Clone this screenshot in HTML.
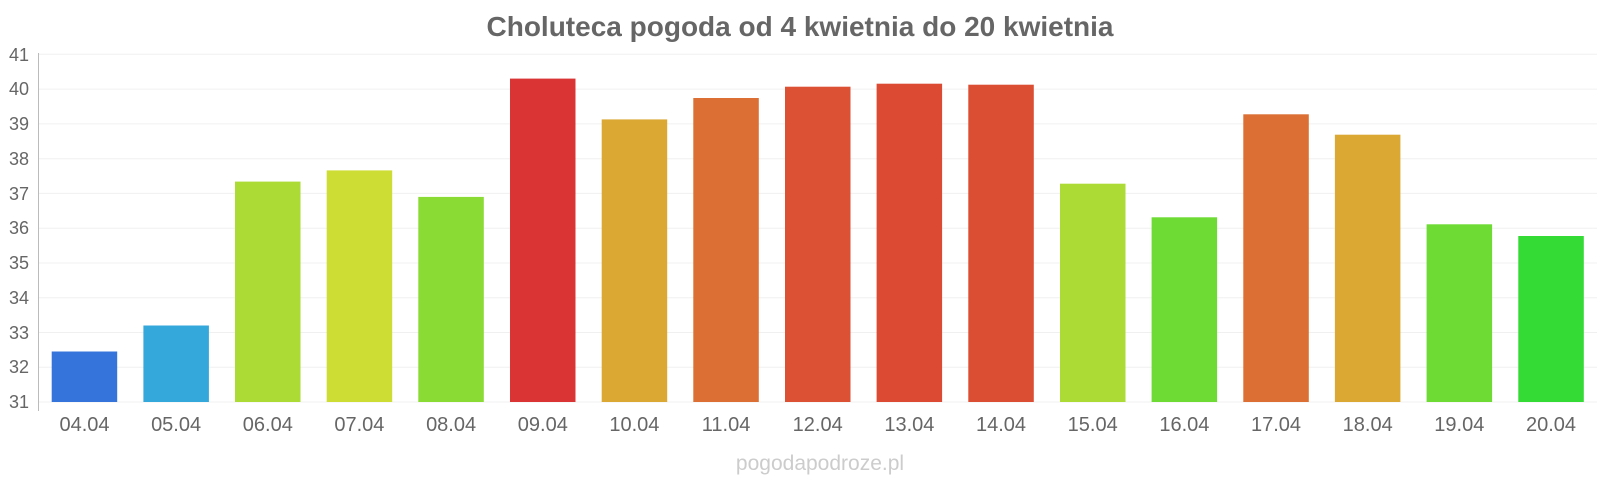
<!DOCTYPE html>
<html><head><meta charset="utf-8"><style>
html,body{margin:0;padding:0;background:#fff;}
svg{display:block;font-family:"Liberation Sans",Arial,sans-serif;}
</style></head><body>
<svg width="1600" height="480" viewBox="0 0 1600 480" xmlns="http://www.w3.org/2000/svg">
<text x="800" y="36" text-anchor="middle" font-size="28" font-weight="bold" fill="#666">Choluteca pogoda od 4 kwietnia do 20 kwietnia</text>
<g stroke="#f0f0f0" stroke-width="1">
<line x1="39" x2="1597" y1="54.3" y2="54.3"/><line x1="39" x2="1597" y1="89.1" y2="89.1"/><line x1="39" x2="1597" y1="123.9" y2="123.9"/><line x1="39" x2="1597" y1="158.7" y2="158.7"/><line x1="39" x2="1597" y1="193.4" y2="193.4"/><line x1="39" x2="1597" y1="228.2" y2="228.2"/><line x1="39" x2="1597" y1="263" y2="263"/><line x1="39" x2="1597" y1="297.7" y2="297.7"/><line x1="39" x2="1597" y1="332.5" y2="332.5"/><line x1="39" x2="1597" y1="367.2" y2="367.2"/><line x1="39" x2="1597" y1="402" y2="402"/>
</g>
<line x1="38.5" x2="38.5" y1="53" y2="411" stroke="#bbb"/>
<g font-size="18" fill="#666" text-anchor="end">
<text x="29" y="61">41</text><text x="29" y="95">40</text><text x="29" y="130">39</text><text x="29" y="165">38</text><text x="29" y="200">37</text><text x="29" y="234">36</text><text x="29" y="269">35</text><text x="29" y="304">34</text><text x="29" y="339">33</text><text x="29" y="373">32</text><text x="29" y="408">31</text>
</g>
<g>
<rect x="51.7" y="351.5" width="65.5" height="50.5" fill="#3474db"/>
<rect x="143.4" y="325.5" width="65.5" height="76.5" fill="#34a7db"/>
<rect x="235" y="181.6" width="65.5" height="220.4" fill="#abdb34"/>
<rect x="326.7" y="170.4" width="65.5" height="231.6" fill="#cddd34"/>
<rect x="418.3" y="196.9" width="65.5" height="205.1" fill="#8adb34"/>
<rect x="510" y="78.6" width="65.5" height="323.4" fill="#db3434"/>
<rect x="601.7" y="119.4" width="65.5" height="282.6" fill="#dba834"/>
<rect x="693.3" y="98" width="65.5" height="304" fill="#dc6f34"/>
<rect x="785" y="86.7" width="65.5" height="315.3" fill="#dc5034"/>
<rect x="876.6" y="83.7" width="65.5" height="318.3" fill="#dc4a34"/>
<rect x="968.3" y="84.7" width="65.5" height="317.3" fill="#dc4e34"/>
<rect x="1060" y="183.7" width="65.5" height="218.3" fill="#abdb34"/>
<rect x="1151.6" y="217.3" width="65.5" height="184.7" fill="#6ddb34"/>
<rect x="1243.3" y="114.3" width="65.5" height="287.7" fill="#dc6f34"/>
<rect x="1334.9" y="134.7" width="65.5" height="267.3" fill="#dba834"/>
<rect x="1426.6" y="224.3" width="65.5" height="177.7" fill="#6ddb34"/>
<rect x="1518.3" y="236" width="65.5" height="166" fill="#34db34"/>
</g>
<g font-size="20" fill="#666" text-anchor="middle">
<text x="84.5" y="431">04.04</text><text x="176.1" y="431">05.04</text><text x="267.8" y="431">06.04</text><text x="359.4" y="431">07.04</text><text x="451.1" y="431">08.04</text><text x="542.8" y="431">09.04</text><text x="634.4" y="431">10.04</text><text x="726.1" y="431">11.04</text><text x="817.7" y="431">12.04</text><text x="909.4" y="431">13.04</text><text x="1001" y="431">14.04</text><text x="1092.7" y="431">15.04</text><text x="1184.4" y="431">16.04</text><text x="1276" y="431">17.04</text><text x="1367.7" y="431">18.04</text><text x="1459.3" y="431">19.04</text><text x="1551" y="431">20.04</text>
</g>
<text x="820" y="470" text-anchor="middle" font-size="21" fill="#ccc">pogodapodroze.pl</text>
</svg>
</body></html>
